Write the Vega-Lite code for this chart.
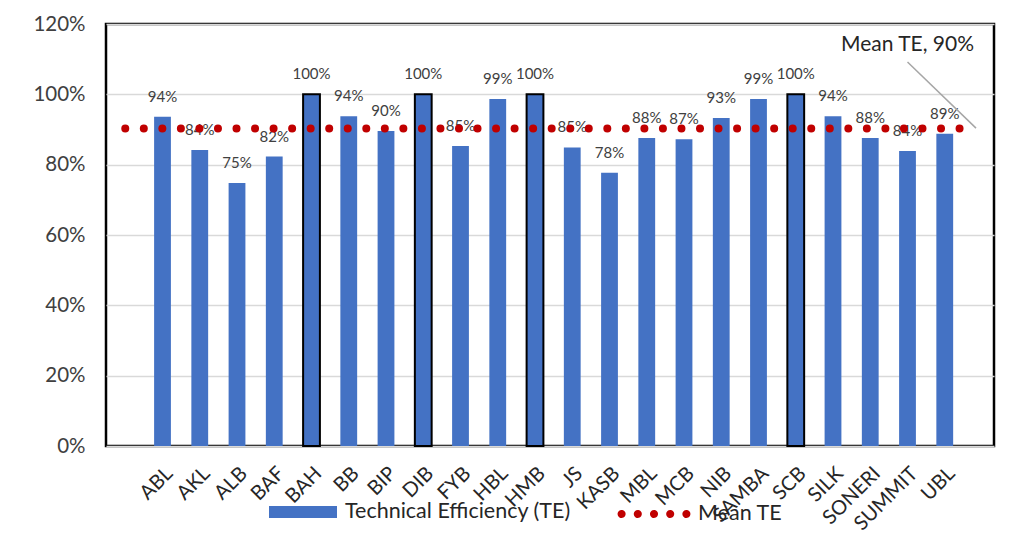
{
  "$schema": "https://vega.github.io/schema/vega-lite/v6.json",
  "width": 888,
  "height": 422,
  "autosize": {"type": "none"},
  "padding": {"left": 106, "top": 24, "right": 36, "bottom": 98},
  "background": "white",
  "config": {
    "font": "Lato",
    "view": {"stroke": "black", "strokeWidth": 2.5},
    "legend": {"labelFont": "Lato", "labelLimit": 0},
    "axis": {"labelFont": "Lato"}
  },
  "datasets": {
    "banks": [
      {"bank": "ABL", "te": 0.936},
      {"bank": "AKL", "te": 0.842},
      {"bank": "ALB", "te": 0.748},
      {"bank": "BAF", "te": 0.823},
      {"bank": "BAH", "te": 1.0},
      {"bank": "BB", "te": 0.938},
      {"bank": "BIP", "te": 0.896},
      {"bank": "DIB", "te": 1.0},
      {"bank": "FYB", "te": 0.853},
      {"bank": "HBL", "te": 0.987},
      {"bank": "HMB", "te": 1.0},
      {"bank": "JS", "te": 0.849},
      {"bank": "KASB", "te": 0.777},
      {"bank": "MBL", "te": 0.876},
      {"bank": "MCB", "te": 0.872},
      {"bank": "NIB", "te": 0.933},
      {"bank": "SAMBA", "te": 0.987},
      {"bank": "SCB", "te": 1.0},
      {"bank": "SILK", "te": 0.938},
      {"bank": "SONERI", "te": 0.876},
      {"bank": "SUMMIT", "te": 0.839},
      {"bank": "UBL", "te": 0.888}
    ],
    "mean": [{"from": "s0", "to": "UBL", "mean": 0.903}],
    "note": [{"x1": "SUMMIT", "x2": "UBL", "y1": 1.092, "y2": 0.904, "ty": 1.14, "label": "Mean TE, 90%"}]
  },
  "layer": [
    {
      "data": {"name": "banks"},
      "mark": {"type": "bar", "strokeWidth": 2},
      "encoding": {
        "x": {
          "field": "bank", "type": "nominal", "sort": null,
          "scale": {
            "domain": ["s0", "ABL", "AKL", "ALB", "BAF", "BAH", "BB", "BIP", "DIB", "FYB", "HBL", "HMB", "JS", "KASB", "MBL", "MCB", "NIB", "SAMBA", "SCB", "SILK", "SONERI", "SUMMIT", "UBL"],
            "paddingInner": 0.549, "paddingOuter": 0.694, "align": 0.21
          },
          "axis": {
            "title": null, "labelAngle": -45, "labelFontSize": 20, "labelColor": "#262626",
            "labelPadding": 17, "ticks": false, "tickSize": 0, "domain": false, "labelOverlap": false,
            "labelExpr": "datum.value == 's0' ? '' : datum.value"
          }
        },
        "y": {
          "field": "te", "type": "quantitative",
          "scale": {"domain": [0, 1.2]},
          "axis": {
            "title": null, "format": ".0%", "values": [0, 0.2, 0.4, 0.6, 0.8, 1, 1.2],
            "labelFontSize": 20.5, "labelColor": "#404040", "labelPadding": 21,
            "ticks": false, "tickSize": 0, "domain": false, "labelOverlap": false,
            "gridColor": "#D9D9D9", "gridWidth": 1.3
          }
        },
        "fill": {
          "datum": "Technical Efficiency (TE)", "type": "nominal",
          "scale": {"range": ["#4472C4"]},
          "legend": {
            "title": null, "orient": "none", "legendX": 163, "legendY": 454,
            "symbolType": "M-1,-0.18H1V0.18H-1Z", "symbolSize": 4624, "symbolStrokeWidth": 0,
            "labelFontSize": 21.5, "labelColor": "#262626", "labelOffset": 8
          }
        },
        "stroke": {"condition": {"test": "datum.te >= 1", "value": "black"}, "value": "transparent"}
      }
    },
    {
      "data": {"name": "banks"},
      "mark": {"type": "text", "dy": -20, "fontSize": 15, "color": "#404040", "baseline": "middle"},
      "encoding": {
        "x": {"field": "bank", "type": "nominal", "sort": null},
        "y": {"field": "te", "type": "quantitative"},
        "text": {"field": "te", "type": "quantitative", "format": ".0%"}
      }
    },
    {
      "data": {"name": "mean"},
      "mark": {"type": "rule", "strokeWidth": 8, "strokeCap": "round", "strokeDash": [0.01, 18.53]},
      "encoding": {
        "x": {"field": "from", "type": "nominal", "bandPosition": 0.5},
        "x2": {"field": "to", "bandPosition": 1.41},
        "y": {"field": "mean", "type": "quantitative"},
        "stroke": {
          "datum": "Mean TE", "type": "nominal",
          "scale": {"range": ["#C00000"]},
          "legend": {
            "title": null, "orient": "none", "legendX": 510, "legendY": 452,
            "symbolType": "M-0.956,0a0.056,0.056 0 1,0 0.112,0a0.056,0.056 0 1,0 -0.112,0ZM-0.506,0a0.056,0.056 0 1,0 0.112,0a0.056,0.056 0 1,0 -0.112,0ZM-0.056,0a0.056,0.056 0 1,0 0.112,0a0.056,0.056 0 1,0 -0.112,0ZM0.394,0a0.056,0.056 0 1,0 0.112,0a0.056,0.056 0 1,0 -0.112,0ZM0.844,0a0.056,0.056 0 1,0 0.112,0a0.056,0.056 0 1,0 -0.112,0Z",
            "symbolSize": 5184, "symbolStrokeWidth": 4, "symbolDash": [1, 0],
            "labelFontSize": 21.5, "labelColor": "#262626", "labelOffset": 6
          }
        }
      }
    },
    {
      "data": {"name": "note"},
      "mark": {"type": "rule", "color": "#A6A6A6", "strokeWidth": 1.5},
      "encoding": {
        "x": {"field": "x1", "type": "nominal"},
        "x2": {"field": "x2", "bandPosition": 2.36},
        "y": {"field": "y1", "type": "quantitative"},
        "y2": {"field": "y2"}
      }
    },
    {
      "data": {"name": "note"},
      "mark": {"type": "text", "fontSize": 21, "color": "#262626", "align": "center", "baseline": "middle"},
      "encoding": {
        "x": {"field": "x1", "type": "nominal"},
        "y": {"field": "ty", "type": "quantitative"},
        "text": {"field": "label"}
      }
    }
  ]
}
